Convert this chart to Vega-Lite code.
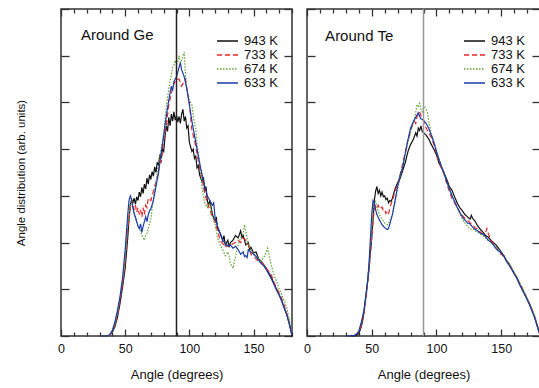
{
"$schema": "https://vega.github.io/schema/vega-lite/v6.json",
"padding": {"left": 14, "top": 7, "right": 0, "bottom": 0},
"spacing": 6,
"config": {
  "view": {"stroke": "#333", "strokeWidth": 1.5},
  "font": "Liberation Sans",
  "axis": {"grid": false, "domain": false, "tickColor": "#333", "tickWidth": 1.3, "labelFont": "Liberation Sans", "labelFontSize": 12.5, "labelColor": "#111", "titleFont": "Liberation Sans", "titleFontSize": 13, "titleFontWeight": "normal", "titleColor": "#111", "labelFlush": false},
  "axisLeft": {"titleFontSize": 11.5},
  "legend": {"orient": "none", "padding": 0, "symbolType": "stroke", "symbolSize": 441, "symbolStrokeWidth": 1.4, "labelFont": "Liberation Sans", "labelFontSize": 13, "labelColor": "#111", "labelOffset": 5, "rowPadding": 0, "clipHeight": 14, "title": null}
},
"resolve": {"scale": {"color": "independent", "strokeDash": "independent"}, "legend": {"color": "independent", "strokeDash": "independent"}},
"datasets": {
"ge": [
{"T":"943 K","a":31,"v":0},{"T":"943 K","a":36,"v":0},{"T":"943 K","a":38,"v":0.02},{"T":"943 K","a":40,"v":0.08},{"T":"943 K","a":42,"v":0.2},{"T":"943 K","a":44,"v":0.4},{"T":"943 K","a":46,"v":0.7},{"T":"943 K","a":48,"v":1.05},{"T":"943 K","a":50,"v":1.45},{"T":"943 K","a":52,"v":2.1},{"T":"943 K","a":53,"v":2.5},{"T":"943 K","a":54,"v":2.8},{"T":"943 K","a":55,"v":2.92},{"T":"943 K","a":56,"v":2.85},{"T":"943 K","a":57,"v":2.95},{"T":"943 K","a":58,"v":2.82},{"T":"943 K","a":59,"v":2.98},{"T":"943 K","a":60,"v":2.9},{"T":"943 K","a":61,"v":3.08},{"T":"943 K","a":62,"v":2.98},{"T":"943 K","a":63,"v":3.18},{"T":"943 K","a":64,"v":3.05},{"T":"943 K","a":65,"v":3.25},{"T":"943 K","a":66,"v":3.15},{"T":"943 K","a":67,"v":3.38},{"T":"943 K","a":68,"v":3.25},{"T":"943 K","a":69,"v":3.45},{"T":"943 K","a":70,"v":3.35},{"T":"943 K","a":71,"v":3.52},{"T":"943 K","a":72,"v":3.42},{"T":"943 K","a":73,"v":3.62},{"T":"943 K","a":74,"v":3.5},{"T":"943 K","a":75,"v":3.72},{"T":"943 K","a":76,"v":3.65},{"T":"943 K","a":77,"v":3.88},{"T":"943 K","a":78,"v":3.8},{"T":"943 K","a":79,"v":4.0},{"T":"943 K","a":80,"v":3.95},{"T":"943 K","a":81,"v":4.25},{"T":"943 K","a":82,"v":4.5},{"T":"943 K","a":83,"v":4.38},{"T":"943 K","a":84,"v":4.68},{"T":"943 K","a":85,"v":4.5},{"T":"943 K","a":86,"v":4.75},{"T":"943 K","a":87,"v":4.6},{"T":"943 K","a":88,"v":4.8},{"T":"943 K","a":89,"v":4.62},{"T":"943 K","a":90,"v":4.72},{"T":"943 K","a":91,"v":4.58},{"T":"943 K","a":92,"v":4.7},{"T":"943 K","a":93,"v":4.55},{"T":"943 K","a":94,"v":4.75},{"T":"943 K","a":95,"v":4.85},{"T":"943 K","a":96,"v":4.6},{"T":"943 K","a":97,"v":4.7},{"T":"943 K","a":98,"v":4.45},{"T":"943 K","a":99,"v":4.5},{"T":"943 K","a":100,"v":4.15},{"T":"943 K","a":101,"v":4.05},{"T":"943 K","a":102,"v":3.95},{"T":"943 K","a":103,"v":4.0},{"T":"943 K","a":104,"v":3.8},{"T":"943 K","a":105,"v":3.85},{"T":"943 K","a":106,"v":3.6},{"T":"943 K","a":107,"v":3.65},{"T":"943 K","a":108,"v":3.45},{"T":"943 K","a":110,"v":3.3},{"T":"943 K","a":111,"v":3.4},{"T":"943 K","a":112,"v":3.1},{"T":"943 K","a":113,"v":3.2},{"T":"943 K","a":114,"v":2.9},{"T":"943 K","a":115,"v":2.8},{"T":"943 K","a":116,"v":2.9},{"T":"943 K","a":118,"v":2.6},{"T":"943 K","a":120,"v":2.45},{"T":"943 K","a":121,"v":2.55},{"T":"943 K","a":122,"v":2.3},{"T":"943 K","a":124,"v":2.2},{"T":"943 K","a":126,"v":2.05},{"T":"943 K","a":127,"v":2.15},{"T":"943 K","a":128,"v":1.95},{"T":"943 K","a":130,"v":2.05},{"T":"943 K","a":131,"v":1.9},{"T":"943 K","a":132,"v":2.0},{"T":"943 K","a":134,"v":2.05},{"T":"943 K","a":136,"v":2.15},{"T":"943 K","a":138,"v":2.1},{"T":"943 K","a":140,"v":2.25},{"T":"943 K","a":141,"v":2.1},{"T":"943 K","a":142,"v":2.15},{"T":"943 K","a":144,"v":1.95},{"T":"943 K","a":146,"v":2.0},{"T":"943 K","a":147,"v":1.85},{"T":"943 K","a":148,"v":1.9},{"T":"943 K","a":150,"v":1.78},{"T":"943 K","a":152,"v":1.8},{"T":"943 K","a":154,"v":1.65},{"T":"943 K","a":156,"v":1.6},{"T":"943 K","a":158,"v":1.52},{"T":"943 K","a":160,"v":1.45},{"T":"943 K","a":162,"v":1.35},{"T":"943 K","a":164,"v":1.25},{"T":"943 K","a":166,"v":1.12},{"T":"943 K","a":168,"v":1.0},{"T":"943 K","a":170,"v":0.88},{"T":"943 K","a":172,"v":0.75},{"T":"943 K","a":174,"v":0.6},{"T":"943 K","a":176,"v":0.45},{"T":"943 K","a":178,"v":0.25},{"T":"943 K","a":180,"v":0.0},
{"T":"733 K","a":31,"v":0},{"T":"733 K","a":36,"v":0},{"T":"733 K","a":38,"v":0.02},{"T":"733 K","a":40,"v":0.1},{"T":"733 K","a":42,"v":0.25},{"T":"733 K","a":44,"v":0.45},{"T":"733 K","a":46,"v":0.75},{"T":"733 K","a":48,"v":1.1},{"T":"733 K","a":50,"v":1.6},{"T":"733 K","a":52,"v":2.3},{"T":"733 K","a":54,"v":2.75},{"T":"733 K","a":55,"v":2.9},{"T":"733 K","a":56,"v":2.85},{"T":"733 K","a":57,"v":2.7},{"T":"733 K","a":58,"v":2.8},{"T":"733 K","a":59,"v":2.65},{"T":"733 K","a":60,"v":2.75},{"T":"733 K","a":61,"v":2.6},{"T":"733 K","a":62,"v":2.7},{"T":"733 K","a":63,"v":2.55},{"T":"733 K","a":64,"v":2.75},{"T":"733 K","a":65,"v":2.6},{"T":"733 K","a":66,"v":2.8},{"T":"733 K","a":67,"v":2.75},{"T":"733 K","a":68,"v":2.95},{"T":"733 K","a":70,"v":2.9},{"T":"733 K","a":72,"v":3.1},{"T":"733 K","a":74,"v":3.3},{"T":"733 K","a":76,"v":3.5},{"T":"733 K","a":77,"v":3.8},{"T":"733 K","a":78,"v":3.7},{"T":"733 K","a":80,"v":4.2},{"T":"733 K","a":82,"v":4.5},{"T":"733 K","a":84,"v":4.95},{"T":"733 K","a":86,"v":5.2},{"T":"733 K","a":88,"v":5.4},{"T":"733 K","a":90,"v":5.5},{"T":"733 K","a":92,"v":5.5},{"T":"733 K","a":94,"v":5.35},{"T":"733 K","a":96,"v":5.45},{"T":"733 K","a":97,"v":5.5},{"T":"733 K","a":98,"v":5.3},{"T":"733 K","a":100,"v":5.0},{"T":"733 K","a":102,"v":4.4},{"T":"733 K","a":104,"v":4.2},{"T":"733 K","a":106,"v":3.9},{"T":"733 K","a":108,"v":3.6},{"T":"733 K","a":110,"v":3.35},{"T":"733 K","a":112,"v":3.05},{"T":"733 K","a":114,"v":2.85},{"T":"733 K","a":116,"v":2.7},{"T":"733 K","a":118,"v":2.55},{"T":"733 K","a":120,"v":2.45},{"T":"733 K","a":122,"v":2.25},{"T":"733 K","a":124,"v":2.05},{"T":"733 K","a":126,"v":1.98},{"T":"733 K","a":128,"v":1.9},{"T":"733 K","a":130,"v":1.95},{"T":"733 K","a":132,"v":1.92},{"T":"733 K","a":134,"v":1.98},{"T":"733 K","a":136,"v":2.0},{"T":"733 K","a":138,"v":2.05},{"T":"733 K","a":140,"v":2.0},{"T":"733 K","a":142,"v":2.1},{"T":"733 K","a":144,"v":2.05},{"T":"733 K","a":146,"v":1.95},{"T":"733 K","a":148,"v":1.75},{"T":"733 K","a":150,"v":1.7},{"T":"733 K","a":152,"v":1.65},{"T":"733 K","a":154,"v":1.6},{"T":"733 K","a":156,"v":1.58},{"T":"733 K","a":158,"v":1.52},{"T":"733 K","a":160,"v":1.45},{"T":"733 K","a":162,"v":1.38},{"T":"733 K","a":164,"v":1.3},{"T":"733 K","a":166,"v":1.15},{"T":"733 K","a":168,"v":1.02},{"T":"733 K","a":170,"v":0.92},{"T":"733 K","a":172,"v":0.8},{"T":"733 K","a":174,"v":0.65},{"T":"733 K","a":176,"v":0.48},{"T":"733 K","a":178,"v":0.28},{"T":"733 K","a":180,"v":0.02},
{"T":"674 K","a":31,"v":0},{"T":"674 K","a":36,"v":0},{"T":"674 K","a":38,"v":0.02},{"T":"674 K","a":40,"v":0.1},{"T":"674 K","a":42,"v":0.25},{"T":"674 K","a":44,"v":0.5},{"T":"674 K","a":46,"v":0.8},{"T":"674 K","a":48,"v":1.2},{"T":"674 K","a":50,"v":1.65},{"T":"674 K","a":52,"v":2.4},{"T":"674 K","a":54,"v":2.85},{"T":"674 K","a":55,"v":2.9},{"T":"674 K","a":56,"v":2.75},{"T":"674 K","a":58,"v":2.5},{"T":"674 K","a":60,"v":2.35},{"T":"674 K","a":62,"v":2.25},{"T":"674 K","a":63,"v":2.15},{"T":"674 K","a":64,"v":2.1},{"T":"674 K","a":65,"v":2.05},{"T":"674 K","a":66,"v":2.15},{"T":"674 K","a":67,"v":2.2},{"T":"674 K","a":68,"v":2.3},{"T":"674 K","a":70,"v":2.5},{"T":"674 K","a":72,"v":2.95},{"T":"674 K","a":74,"v":3.3},{"T":"674 K","a":76,"v":3.7},{"T":"674 K","a":78,"v":4.0},{"T":"674 K","a":80,"v":4.3},{"T":"674 K","a":81,"v":4.6},{"T":"674 K","a":82,"v":4.9},{"T":"674 K","a":83,"v":5.1},{"T":"674 K","a":84,"v":5.3},{"T":"674 K","a":85,"v":5.45},{"T":"674 K","a":86,"v":5.6},{"T":"674 K","a":87,"v":5.75},{"T":"674 K","a":88,"v":5.8},{"T":"674 K","a":89,"v":5.9},{"T":"674 K","a":90,"v":5.82},{"T":"674 K","a":91,"v":5.88},{"T":"674 K","a":92,"v":6.0},{"T":"674 K","a":93,"v":5.85},{"T":"674 K","a":94,"v":5.9},{"T":"674 K","a":95,"v":6.0},{"T":"674 K","a":96,"v":6.08},{"T":"674 K","a":97,"v":5.6},{"T":"674 K","a":98,"v":5.3},{"T":"674 K","a":100,"v":5.05},{"T":"674 K","a":102,"v":4.95},{"T":"674 K","a":103,"v":4.7},{"T":"674 K","a":104,"v":4.55},{"T":"674 K","a":105,"v":4.45},{"T":"674 K","a":106,"v":4.1},{"T":"674 K","a":108,"v":3.75},{"T":"674 K","a":110,"v":3.15},{"T":"674 K","a":112,"v":2.85},{"T":"674 K","a":114,"v":2.75},{"T":"674 K","a":116,"v":2.85},{"T":"674 K","a":118,"v":2.55},{"T":"674 K","a":120,"v":2.4},{"T":"674 K","a":122,"v":2.1},{"T":"674 K","a":124,"v":1.95},{"T":"674 K","a":126,"v":1.85},{"T":"674 K","a":128,"v":1.72},{"T":"674 K","a":130,"v":1.8},{"T":"674 K","a":131,"v":1.7},{"T":"674 K","a":132,"v":1.55},{"T":"674 K","a":134,"v":1.45},{"T":"674 K","a":136,"v":1.7},{"T":"674 K","a":138,"v":1.95},{"T":"674 K","a":140,"v":2.1},{"T":"674 K","a":142,"v":2.2},{"T":"674 K","a":143,"v":2.38},{"T":"674 K","a":144,"v":2.25},{"T":"674 K","a":146,"v":1.95},{"T":"674 K","a":148,"v":1.85},{"T":"674 K","a":150,"v":1.78},{"T":"674 K","a":152,"v":1.72},{"T":"674 K","a":154,"v":1.65},{"T":"674 K","a":156,"v":1.6},{"T":"674 K","a":158,"v":1.68},{"T":"674 K","a":160,"v":1.8},{"T":"674 K","a":161,"v":1.88},{"T":"674 K","a":162,"v":1.75},{"T":"674 K","a":164,"v":1.5},{"T":"674 K","a":166,"v":1.3},{"T":"674 K","a":168,"v":1.18},{"T":"674 K","a":170,"v":1.0},{"T":"674 K","a":172,"v":0.88},{"T":"674 K","a":174,"v":0.75},{"T":"674 K","a":176,"v":0.6},{"T":"674 K","a":178,"v":0.32},{"T":"674 K","a":180,"v":0.05},
{"T":"633 K","a":31,"v":0},{"T":"633 K","a":36,"v":0},{"T":"633 K","a":38,"v":0.03},{"T":"633 K","a":40,"v":0.12},{"T":"633 K","a":42,"v":0.3},{"T":"633 K","a":44,"v":0.55},{"T":"633 K","a":46,"v":0.85},{"T":"633 K","a":48,"v":1.25},{"T":"633 K","a":50,"v":1.85},{"T":"633 K","a":52,"v":2.6},{"T":"633 K","a":53,"v":2.9},{"T":"633 K","a":54,"v":3.0},{"T":"633 K","a":55,"v":2.92},{"T":"633 K","a":56,"v":2.75},{"T":"633 K","a":57,"v":2.62},{"T":"633 K","a":58,"v":2.55},{"T":"633 K","a":59,"v":2.45},{"T":"633 K","a":60,"v":2.35},{"T":"633 K","a":61,"v":2.3},{"T":"633 K","a":62,"v":2.4},{"T":"633 K","a":63,"v":2.22},{"T":"633 K","a":64,"v":2.35},{"T":"633 K","a":65,"v":2.45},{"T":"633 K","a":66,"v":2.55},{"T":"633 K","a":67,"v":2.45},{"T":"633 K","a":68,"v":2.6},{"T":"633 K","a":69,"v":2.68},{"T":"633 K","a":70,"v":2.72},{"T":"633 K","a":72,"v":2.9},{"T":"633 K","a":74,"v":3.2},{"T":"633 K","a":76,"v":3.5},{"T":"633 K","a":78,"v":3.9},{"T":"633 K","a":80,"v":4.3},{"T":"633 K","a":82,"v":4.7},{"T":"633 K","a":84,"v":5.05},{"T":"633 K","a":86,"v":5.35},{"T":"633 K","a":87,"v":5.25},{"T":"633 K","a":88,"v":5.45},{"T":"633 K","a":90,"v":5.55},{"T":"633 K","a":91,"v":5.65},{"T":"633 K","a":92,"v":5.75},{"T":"633 K","a":93,"v":5.85},{"T":"633 K","a":94,"v":5.7},{"T":"633 K","a":96,"v":5.55},{"T":"633 K","a":98,"v":5.3},{"T":"633 K","a":100,"v":4.95},{"T":"633 K","a":102,"v":4.6},{"T":"633 K","a":104,"v":4.3},{"T":"633 K","a":106,"v":4.0},{"T":"633 K","a":108,"v":3.7},{"T":"633 K","a":110,"v":3.45},{"T":"633 K","a":112,"v":3.2},{"T":"633 K","a":114,"v":3.0},{"T":"633 K","a":116,"v":2.9},{"T":"633 K","a":118,"v":2.8},{"T":"633 K","a":119,"v":2.85},{"T":"633 K","a":120,"v":2.55},{"T":"633 K","a":122,"v":2.35},{"T":"633 K","a":124,"v":2.2},{"T":"633 K","a":126,"v":2.05},{"T":"633 K","a":128,"v":1.98},{"T":"633 K","a":130,"v":1.92},{"T":"633 K","a":132,"v":1.95},{"T":"633 K","a":134,"v":1.88},{"T":"633 K","a":136,"v":1.92},{"T":"633 K","a":138,"v":1.85},{"T":"633 K","a":140,"v":1.75},{"T":"633 K","a":142,"v":1.8},{"T":"633 K","a":143,"v":1.7},{"T":"633 K","a":144,"v":1.72},{"T":"633 K","a":145,"v":1.68},{"T":"633 K","a":146,"v":1.85},{"T":"633 K","a":148,"v":1.8},{"T":"633 K","a":150,"v":1.75},{"T":"633 K","a":152,"v":1.7},{"T":"633 K","a":154,"v":1.62},{"T":"633 K","a":156,"v":1.55},{"T":"633 K","a":158,"v":1.5},{"T":"633 K","a":160,"v":1.42},{"T":"633 K","a":162,"v":1.32},{"T":"633 K","a":164,"v":1.22},{"T":"633 K","a":166,"v":1.1},{"T":"633 K","a":168,"v":0.98},{"T":"633 K","a":170,"v":0.88},{"T":"633 K","a":172,"v":0.75},{"T":"633 K","a":174,"v":0.6},{"T":"633 K","a":176,"v":0.45},{"T":"633 K","a":178,"v":0.25},{"T":"633 K","a":180,"v":0.02}
],
"te": [
{"T":"943 K","a":31,"v":0},{"T":"943 K","a":36,"v":0},{"T":"943 K","a":38,"v":0.01},{"T":"943 K","a":40,"v":0.05},{"T":"943 K","a":42,"v":0.2},{"T":"943 K","a":43,"v":0.34},{"T":"943 K","a":44,"v":0.5},{"T":"943 K","a":46,"v":0.95},{"T":"943 K","a":48,"v":1.48},{"T":"943 K","a":50,"v":2.1},{"T":"943 K","a":51,"v":2.5},{"T":"943 K","a":52,"v":2.9},{"T":"943 K","a":53,"v":3.1},{"T":"943 K","a":54,"v":3.2},{"T":"943 K","a":55,"v":3.05},{"T":"943 K","a":56,"v":3.12},{"T":"943 K","a":57,"v":3.0},{"T":"943 K","a":58,"v":3.08},{"T":"943 K","a":59,"v":2.98},{"T":"943 K","a":60,"v":3.0},{"T":"943 K","a":61,"v":2.92},{"T":"943 K","a":62,"v":2.95},{"T":"943 K","a":63,"v":2.85},{"T":"943 K","a":64,"v":2.9},{"T":"943 K","a":65,"v":2.88},{"T":"943 K","a":66,"v":2.95},{"T":"943 K","a":68,"v":3.15},{"T":"943 K","a":70,"v":3.28},{"T":"943 K","a":72,"v":3.38},{"T":"943 K","a":74,"v":3.55},{"T":"943 K","a":76,"v":3.72},{"T":"943 K","a":78,"v":3.95},{"T":"943 K","a":80,"v":4.1},{"T":"943 K","a":82,"v":4.2},{"T":"943 K","a":84,"v":4.35},{"T":"943 K","a":85,"v":4.28},{"T":"943 K","a":86,"v":4.45},{"T":"943 K","a":87,"v":4.4},{"T":"943 K","a":88,"v":4.5},{"T":"943 K","a":89,"v":4.38},{"T":"943 K","a":90,"v":4.35},{"T":"943 K","a":92,"v":4.3},{"T":"943 K","a":94,"v":4.22},{"T":"943 K","a":96,"v":4.1},{"T":"943 K","a":98,"v":4.0},{"T":"943 K","a":100,"v":3.88},{"T":"943 K","a":102,"v":3.7},{"T":"943 K","a":104,"v":3.6},{"T":"943 K","a":106,"v":3.48},{"T":"943 K","a":108,"v":3.35},{"T":"943 K","a":110,"v":3.2},{"T":"943 K","a":112,"v":3.12},{"T":"943 K","a":114,"v":2.98},{"T":"943 K","a":116,"v":2.85},{"T":"943 K","a":118,"v":2.75},{"T":"943 K","a":120,"v":2.68},{"T":"943 K","a":122,"v":2.6},{"T":"943 K","a":124,"v":2.55},{"T":"943 K","a":126,"v":2.5},{"T":"943 K","a":127,"v":2.58},{"T":"943 K","a":128,"v":2.52},{"T":"943 K","a":130,"v":2.45},{"T":"943 K","a":132,"v":2.35},{"T":"943 K","a":134,"v":2.28},{"T":"943 K","a":136,"v":2.22},{"T":"943 K","a":138,"v":2.15},{"T":"943 K","a":140,"v":2.12},{"T":"943 K","a":142,"v":2.05},{"T":"943 K","a":144,"v":2.0},{"T":"943 K","a":146,"v":1.95},{"T":"943 K","a":148,"v":1.88},{"T":"943 K","a":150,"v":1.8},{"T":"943 K","a":152,"v":1.72},{"T":"943 K","a":154,"v":1.62},{"T":"943 K","a":156,"v":1.55},{"T":"943 K","a":158,"v":1.45},{"T":"943 K","a":160,"v":1.35},{"T":"943 K","a":162,"v":1.25},{"T":"943 K","a":164,"v":1.12},{"T":"943 K","a":166,"v":1.02},{"T":"943 K","a":168,"v":0.9},{"T":"943 K","a":170,"v":0.8},{"T":"943 K","a":172,"v":0.68},{"T":"943 K","a":174,"v":0.55},{"T":"943 K","a":176,"v":0.4},{"T":"943 K","a":178,"v":0.2},{"T":"943 K","a":180,"v":0.02},
{"T":"733 K","a":31,"v":0},{"T":"733 K","a":36,"v":0.02},{"T":"733 K","a":38,"v":0.04},{"T":"733 K","a":40,"v":0.08},{"T":"733 K","a":42,"v":0.22},{"T":"733 K","a":44,"v":0.45},{"T":"733 K","a":46,"v":0.9},{"T":"733 K","a":48,"v":1.45},{"T":"733 K","a":50,"v":2.1},{"T":"733 K","a":51,"v":2.45},{"T":"733 K","a":52,"v":2.7},{"T":"733 K","a":53,"v":2.8},{"T":"733 K","a":54,"v":2.75},{"T":"733 K","a":55,"v":2.8},{"T":"733 K","a":56,"v":2.72},{"T":"733 K","a":58,"v":2.76},{"T":"733 K","a":59,"v":2.68},{"T":"733 K","a":60,"v":2.7},{"T":"733 K","a":61,"v":2.62},{"T":"733 K","a":62,"v":2.65},{"T":"733 K","a":63,"v":2.6},{"T":"733 K","a":64,"v":2.75},{"T":"733 K","a":66,"v":2.9},{"T":"733 K","a":68,"v":3.1},{"T":"733 K","a":70,"v":3.25},{"T":"733 K","a":72,"v":3.45},{"T":"733 K","a":74,"v":3.7},{"T":"733 K","a":76,"v":3.95},{"T":"733 K","a":78,"v":4.2},{"T":"733 K","a":80,"v":4.4},{"T":"733 K","a":82,"v":4.55},{"T":"733 K","a":83,"v":4.6},{"T":"733 K","a":84,"v":4.55},{"T":"733 K","a":85,"v":4.7},{"T":"733 K","a":86,"v":4.75},{"T":"733 K","a":87,"v":4.8},{"T":"733 K","a":88,"v":4.72},{"T":"733 K","a":90,"v":4.6},{"T":"733 K","a":92,"v":4.45},{"T":"733 K","a":94,"v":4.35},{"T":"733 K","a":96,"v":4.25},{"T":"733 K","a":98,"v":4.1},{"T":"733 K","a":100,"v":3.92},{"T":"733 K","a":102,"v":3.72},{"T":"733 K","a":104,"v":3.58},{"T":"733 K","a":106,"v":3.45},{"T":"733 K","a":108,"v":3.25},{"T":"733 K","a":110,"v":3.1},{"T":"733 K","a":112,"v":2.95},{"T":"733 K","a":114,"v":2.85},{"T":"733 K","a":116,"v":2.75},{"T":"733 K","a":118,"v":2.65},{"T":"733 K","a":120,"v":2.58},{"T":"733 K","a":122,"v":2.52},{"T":"733 K","a":124,"v":2.48},{"T":"733 K","a":126,"v":2.42},{"T":"733 K","a":128,"v":2.38},{"T":"733 K","a":130,"v":2.32},{"T":"733 K","a":132,"v":2.28},{"T":"733 K","a":134,"v":2.22},{"T":"733 K","a":136,"v":2.18},{"T":"733 K","a":138,"v":2.22},{"T":"733 K","a":139,"v":2.3},{"T":"733 K","a":140,"v":2.2},{"T":"733 K","a":142,"v":2.05},{"T":"733 K","a":144,"v":1.98},{"T":"733 K","a":146,"v":1.9},{"T":"733 K","a":148,"v":1.82},{"T":"733 K","a":150,"v":1.75},{"T":"733 K","a":152,"v":1.7},{"T":"733 K","a":154,"v":1.62},{"T":"733 K","a":156,"v":1.55},{"T":"733 K","a":158,"v":1.45},{"T":"733 K","a":160,"v":1.35},{"T":"733 K","a":162,"v":1.25},{"T":"733 K","a":164,"v":1.15},{"T":"733 K","a":166,"v":1.05},{"T":"733 K","a":168,"v":0.92},{"T":"733 K","a":170,"v":0.8},{"T":"733 K","a":172,"v":0.68},{"T":"733 K","a":174,"v":0.55},{"T":"733 K","a":176,"v":0.4},{"T":"733 K","a":178,"v":0.22},{"T":"733 K","a":180,"v":0.02},
{"T":"674 K","a":31,"v":0},{"T":"674 K","a":36,"v":0.01},{"T":"674 K","a":38,"v":0.03},{"T":"674 K","a":40,"v":0.1},{"T":"674 K","a":42,"v":0.28},{"T":"674 K","a":44,"v":0.52},{"T":"674 K","a":46,"v":0.95},{"T":"674 K","a":48,"v":1.55},{"T":"674 K","a":50,"v":2.3},{"T":"674 K","a":51,"v":2.7},{"T":"674 K","a":52,"v":2.85},{"T":"674 K","a":53,"v":2.88},{"T":"674 K","a":54,"v":2.75},{"T":"674 K","a":56,"v":2.6},{"T":"674 K","a":58,"v":2.5},{"T":"674 K","a":60,"v":2.42},{"T":"674 K","a":62,"v":2.38},{"T":"674 K","a":63,"v":2.42},{"T":"674 K","a":64,"v":2.48},{"T":"674 K","a":66,"v":2.6},{"T":"674 K","a":68,"v":2.85},{"T":"674 K","a":70,"v":3.15},{"T":"674 K","a":72,"v":3.4},{"T":"674 K","a":74,"v":3.65},{"T":"674 K","a":76,"v":3.9},{"T":"674 K","a":78,"v":4.15},{"T":"674 K","a":80,"v":4.35},{"T":"674 K","a":82,"v":4.55},{"T":"674 K","a":84,"v":4.78},{"T":"674 K","a":85,"v":4.95},{"T":"674 K","a":86,"v":4.92},{"T":"674 K","a":87,"v":4.98},{"T":"674 K","a":88,"v":4.85},{"T":"674 K","a":89,"v":4.8},{"T":"674 K","a":90,"v":4.88},{"T":"674 K","a":91,"v":4.9},{"T":"674 K","a":92,"v":4.85},{"T":"674 K","a":93,"v":4.8},{"T":"674 K","a":94,"v":4.6},{"T":"674 K","a":96,"v":4.35},{"T":"674 K","a":98,"v":4.15},{"T":"674 K","a":100,"v":3.98},{"T":"674 K","a":102,"v":3.8},{"T":"674 K","a":104,"v":3.62},{"T":"674 K","a":106,"v":3.45},{"T":"674 K","a":108,"v":3.3},{"T":"674 K","a":110,"v":3.15},{"T":"674 K","a":112,"v":3.02},{"T":"674 K","a":114,"v":2.88},{"T":"674 K","a":116,"v":2.75},{"T":"674 K","a":118,"v":2.62},{"T":"674 K","a":120,"v":2.5},{"T":"674 K","a":122,"v":2.42},{"T":"674 K","a":124,"v":2.35},{"T":"674 K","a":126,"v":2.28},{"T":"674 K","a":128,"v":2.3},{"T":"674 K","a":130,"v":2.25},{"T":"674 K","a":132,"v":2.22},{"T":"674 K","a":134,"v":2.18},{"T":"674 K","a":136,"v":2.15},{"T":"674 K","a":138,"v":2.1},{"T":"674 K","a":140,"v":2.05},{"T":"674 K","a":142,"v":2.0},{"T":"674 K","a":144,"v":1.95},{"T":"674 K","a":146,"v":1.9},{"T":"674 K","a":148,"v":1.85},{"T":"674 K","a":150,"v":1.78},{"T":"674 K","a":152,"v":1.7},{"T":"674 K","a":154,"v":1.62},{"T":"674 K","a":156,"v":1.55},{"T":"674 K","a":158,"v":1.45},{"T":"674 K","a":160,"v":1.36},{"T":"674 K","a":162,"v":1.27},{"T":"674 K","a":164,"v":1.16},{"T":"674 K","a":166,"v":1.05},{"T":"674 K","a":168,"v":0.93},{"T":"674 K","a":170,"v":0.82},{"T":"674 K","a":172,"v":0.7},{"T":"674 K","a":174,"v":0.56},{"T":"674 K","a":176,"v":0.42},{"T":"674 K","a":178,"v":0.24},{"T":"674 K","a":180,"v":0.03},
{"T":"633 K","a":31,"v":0},{"T":"633 K","a":36,"v":0.01},{"T":"633 K","a":38,"v":0.03},{"T":"633 K","a":40,"v":0.1},{"T":"633 K","a":42,"v":0.3},{"T":"633 K","a":44,"v":0.55},{"T":"633 K","a":46,"v":1.0},{"T":"633 K","a":47,"v":1.2},{"T":"633 K","a":48,"v":1.6},{"T":"633 K","a":49,"v":2.1},{"T":"633 K","a":50,"v":2.6},{"T":"633 K","a":51,"v":2.9},{"T":"633 K","a":52,"v":2.85},{"T":"633 K","a":53,"v":2.7},{"T":"633 K","a":54,"v":2.6},{"T":"633 K","a":56,"v":2.48},{"T":"633 K","a":58,"v":2.38},{"T":"633 K","a":60,"v":2.32},{"T":"633 K","a":62,"v":2.28},{"T":"633 K","a":63,"v":2.3},{"T":"633 K","a":64,"v":2.4},{"T":"633 K","a":66,"v":2.6},{"T":"633 K","a":68,"v":2.9},{"T":"633 K","a":70,"v":3.2},{"T":"633 K","a":72,"v":3.45},{"T":"633 K","a":74,"v":3.62},{"T":"633 K","a":76,"v":3.92},{"T":"633 K","a":78,"v":4.2},{"T":"633 K","a":80,"v":4.45},{"T":"633 K","a":82,"v":4.58},{"T":"633 K","a":84,"v":4.68},{"T":"633 K","a":86,"v":4.78},{"T":"633 K","a":87,"v":4.7},{"T":"633 K","a":88,"v":4.65},{"T":"633 K","a":90,"v":4.62},{"T":"633 K","a":92,"v":4.55},{"T":"633 K","a":94,"v":4.45},{"T":"633 K","a":96,"v":4.3},{"T":"633 K","a":98,"v":4.15},{"T":"633 K","a":100,"v":3.95},{"T":"633 K","a":102,"v":3.78},{"T":"633 K","a":104,"v":3.62},{"T":"633 K","a":106,"v":3.48},{"T":"633 K","a":108,"v":3.3},{"T":"633 K","a":110,"v":3.15},{"T":"633 K","a":112,"v":3.0},{"T":"633 K","a":114,"v":2.88},{"T":"633 K","a":116,"v":2.76},{"T":"633 K","a":118,"v":2.65},{"T":"633 K","a":120,"v":2.55},{"T":"633 K","a":122,"v":2.48},{"T":"633 K","a":124,"v":2.42},{"T":"633 K","a":126,"v":2.4},{"T":"633 K","a":128,"v":2.33},{"T":"633 K","a":130,"v":2.28},{"T":"633 K","a":132,"v":2.25},{"T":"633 K","a":134,"v":2.2},{"T":"633 K","a":136,"v":2.18},{"T":"633 K","a":138,"v":2.12},{"T":"633 K","a":140,"v":2.05},{"T":"633 K","a":142,"v":2.02},{"T":"633 K","a":144,"v":1.95},{"T":"633 K","a":146,"v":1.87},{"T":"633 K","a":148,"v":1.82},{"T":"633 K","a":150,"v":1.78},{"T":"633 K","a":152,"v":1.72},{"T":"633 K","a":154,"v":1.6},{"T":"633 K","a":156,"v":1.52},{"T":"633 K","a":158,"v":1.43},{"T":"633 K","a":160,"v":1.33},{"T":"633 K","a":162,"v":1.25},{"T":"633 K","a":164,"v":1.12},{"T":"633 K","a":166,"v":1.0},{"T":"633 K","a":168,"v":0.9},{"T":"633 K","a":170,"v":0.78},{"T":"633 K","a":172,"v":0.66},{"T":"633 K","a":174,"v":0.52},{"T":"633 K","a":176,"v":0.38},{"T":"633 K","a":178,"v":0.2},{"T":"633 K","a":180,"v":0.02}
]
},
"hconcat": [
{
  "width": 231, "height": 327,
  "layer": [
    {"data": {"name": "ge"}, "mark": {"type": "line", "strokeWidth": 1.2},
     "encoding": {
       "x": {"field": "a", "type": "quantitative", "scale": {"domain": [0, 180], "nice": false, "zero": false}, "title": "Angle (degrees)",
             "axis": {"orient": "bottom", "values": [0,10,20,30,40,50,60,70,80,90,100,110,120,130,140,150,160,170,180], "labelExpr": "datum.value % 50 === 0 ? datum.label : ''", "tickSize": {"condition": {"test": "datum.value % 50 === 0", "value": -7}, "value": -4}, "labelPadding": 13.5, "titlePadding": 13}},
       "y": {"field": "v", "type": "quantitative", "scale": {"domain": [0, 7], "nice": false}, "title": "Angle distribution (arb. units)",
             "axis": {"orient": "left", "values": [0,1,2,3,4,5,6,7], "labels": false, "tickSize": -8, "titlePadding": 34}},
       "color": {"field": "T", "type": "nominal", "scale": {"domain": ["943 K","733 K","674 K","633 K"], "range": ["#111111","#e8262b","#5fa232","#1c3ca8"]}, "legend": {"legendX": 155, "legendY": 25}},
       "strokeDash": {"field": "T", "type": "nominal", "scale": {"domain": ["943 K","733 K","674 K","633 K"], "range": [[1,0],[5,3],[1.5,1.5],[1,0]]}, "legend": {"legendX": 155, "legendY": 25}}
     }},
    {"data": {"values": [{"a": 90}]}, "mark": {"type": "rule", "color": "#222", "strokeWidth": 1.5},
     "encoding": {"x": {"field": "a", "type": "quantitative", "axis": null}}},
    {"data": {"values": [{"a": 15.6, "v": 6.45, "t": "Around Ge"}]}, "mark": {"type": "text", "align": "left", "baseline": "middle", "fontSize": 15, "color": "#111"},
     "encoding": {
       "x": {"field": "a", "type": "quantitative", "title": null, "axis": {"orient": "top", "values": [0,10,20,30,40,50,60,70,80,90,100,110,120,130,140,150,160,170,180], "labels": false, "tickSize": {"condition": {"test": "datum.value % 50 === 0", "value": -7}, "value": -4}}},
       "y": {"field": "v", "type": "quantitative", "title": null, "axis": {"orient": "right", "values": [0,1,2,3,4,5,6,7], "labels": false, "tickSize": -8}},
       "text": {"field": "t"}
     }}
  ],
  "resolve": {"axis": {"x": "independent", "y": "independent"}}
},
{
  "width": 233, "height": 327,
  "layer": [
    {"data": {"name": "te"}, "mark": {"type": "line", "strokeWidth": 1.2},
     "encoding": {
       "x": {"field": "a", "type": "quantitative", "scale": {"domain": [0, 180], "nice": false, "zero": false}, "title": "Angle (degrees)",
             "axis": {"orient": "bottom", "values": [0,10,20,30,40,50,60,70,80,90,100,110,120,130,140,150,160,170,180], "labelExpr": "datum.value % 50 === 0 ? datum.label : ''", "tickSize": {"condition": {"test": "datum.value % 50 === 0", "value": -7}, "value": -4}, "labelPadding": 13.5, "titlePadding": 13}},
       "y": {"field": "v", "type": "quantitative", "scale": {"domain": [0, 7], "nice": false}, "title": null,
             "axis": {"orient": "left", "values": [0,1,2,3,4,5,6,7], "labels": false, "tickSize": -8}},
       "color": {"field": "T", "type": "nominal", "scale": {"domain": ["943 K","733 K","674 K","633 K"], "range": ["#111111","#e8262b","#5fa232","#1c3ca8"]}, "legend": {"legendX": 156, "legendY": 25}},
       "strokeDash": {"field": "T", "type": "nominal", "scale": {"domain": ["943 K","733 K","674 K","633 K"], "range": [[1,0],[5,3],[1.5,1.5],[1,0]]}, "legend": {"legendX": 156, "legendY": 25}}
     }},
    {"data": {"values": [{"a": 90}]}, "mark": {"type": "rule", "color": "#999", "strokeWidth": 1.5},
     "encoding": {"x": {"field": "a", "type": "quantitative", "axis": null}}},
    {"data": {"values": [{"a": 14, "v": 6.42, "t": "Around Te"}]}, "mark": {"type": "text", "align": "left", "baseline": "middle", "fontSize": 15, "color": "#111"},
     "encoding": {
       "x": {"field": "a", "type": "quantitative", "title": null, "axis": {"orient": "top", "values": [0,10,20,30,40,50,60,70,80,90,100,110,120,130,140,150,160,170,180], "labels": false, "tickSize": {"condition": {"test": "datum.value % 50 === 0", "value": -7}, "value": -4}}},
       "y": {"field": "v", "type": "quantitative", "title": null, "axis": {"orient": "right", "values": [0,1,2,3,4,5,6,7], "labels": false, "tickSize": -8}},
       "text": {"field": "t"}
     }}
  ],
  "resolve": {"axis": {"x": "independent", "y": "independent"}}
}
]
}
